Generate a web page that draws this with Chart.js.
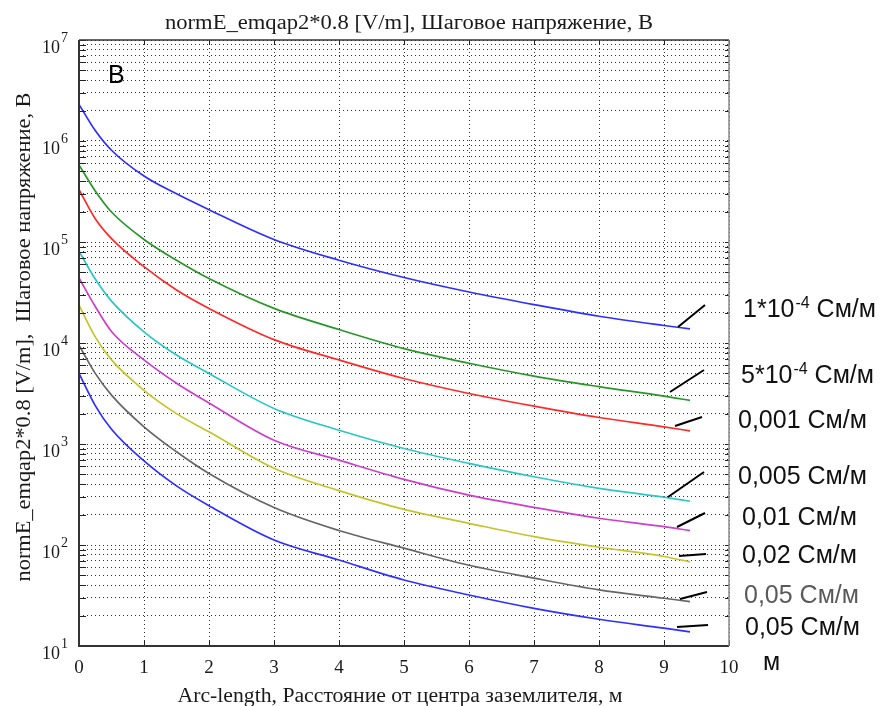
<!DOCTYPE html>
<html><head><meta charset="utf-8">
<script src="https://cdn.jsdelivr.net/npm/chart.js@4.4.1/dist/chart.umd.min.js"></script>
<style>html,body{margin:0;padding:0;background:#fff;}canvas{display:block;}</style>
</head><body>
<canvas id="c" width="882" height="706"></canvas>
<script>
// ---- data ----
const distance = [0, 0.25, 0.5, 1, 1.5, 2, 3, 4, 5, 6, 7, 8, 9, 9.4];
const sigma1e4 = [2.3e6, 1.27e6, 8.1e5, 4.5e5, 3.0e5, 2.09e5, 1.06e5, 6.6e4, 4.45e4, 3.2e4, 2.4e4, 1.84e4, 1.49e4, 1.38e4];
const sigma5e4 = [5.8e5, 3.2e5, 1.98e5, 1.06e5, 6.6e4, 4.35e4, 2.2e4, 1.36e4, 8.8e3, 6.3e3, 4.7e3, 3.7e3, 2.98e3, 2.7e3];
const sigma001 = [3.3e5, 1.7e5, 1.08e5, 5.7e4, 3.35e4, 2.2e4, 1.08e4, 6.8e3, 4.45e3, 3.16e3, 2.37e3, 1.83e3, 1.48e3, 1.35e3];
const sigma005 = [8.1e4, 4.3e4, 2.6e4, 1.29e4, 7.6e3, 5.0e3, 2.25e3, 1.37e3, 903, 643, 474, 364, 297, 271];
const sigma01 = [4.4e4, 2.3e4, 1.3e4, 6.8e3, 4.0e3, 2.55e3, 1.09e3, 693, 447, 312, 236, 184, 152, 139];
const sigma02 = [2.37e4, 1.15e4, 6.8e3, 3.4e3, 2.0e3, 1.32e3, 574, 345, 225, 164, 121, 95, 77, 68];
const sigma05a = [9.5e3, 5.0e3, 3.05e3, 1.48e3, 837, 510, 235, 139, 93, 63, 47, 36, 29.7, 27.5];
const sigma05b = [5e3, 2.4e3, 1.4e3, 680, 385, 245, 112, 71, 45, 32, 23.6, 18.4, 15, 13.8];
const seriesNames = ['1*10^-4 См/м', '5*10^-4 См/м', '0,001 См/м', '0,005 См/м', '0,01 См/м', '0,02 См/м', '0,05 См/м', '0,05 См/м'];
const xTickValues = [0, 1, 2, 3, 4, 5, 6, 7, 8, 9, 10];
const yDecadeExps = [1, 2, 3, 4, 5, 6, 7];
const titleText = 'normE_emqap2*0.8 [V/m], Шаговое напряжение, В';
const xTitleText = 'Arc-length, Расстояние от центра заземлителя, м';
const yTitleText = 'normE_emqap2*0.8 [V/m],  Шаговое напряжение, В';
const panelLetter = 'В';
const xUnit = 'м';

// ---- styles ----
const seriesValues = [sigma1e4, sigma5e4, sigma001, sigma005, sigma01, sigma02, sigma05a, sigma05b];
const colors = ['#2f2fff', '#2a962a', '#ff2a2a', '#2cc6c6', '#cc3fcc', '#c4c42c', '#666666', '#2f2fff'];

const yGrid = [];
for (let e = 1; e <= 6; e++) for (let m = 1; m <= 9; m++) yGrid.push(m * Math.pow(10, e));
yGrid.push(1e7);

const labelPos = [[743,317],[741,383],[738,428],[738,484],[742,525],[742,563],[744,603],[745,635]];
const labelColors = ['#111','#111','#111','#111','#111','#111','#5a5a5a','#111'];
const leaders = [[678,327,705,305],[670,392,704,370],[675,426,702,417],[668,497,704,472],
                 [677,527,705,513],[679,556,706,554],[680,599,707,592],[677,627,708,625]];

function fitText(ctx, text, cx, y, w) {
  const m = ctx.measureText(text).width;
  ctx.save(); ctx.translate(cx, y); ctx.scale(w / m, 1);
  ctx.textAlign = 'center'; ctx.fillText(text, 0, 0); ctx.restore();
}

const decor = {
  id: 'decor',
  afterDatasetsDraw(chart) {
    const ctx = chart.ctx, a = chart.chartArea;
    const xs = chart.scales.x, ys = chart.scales.y;
    ctx.save();
    ctx.strokeStyle = '#222'; ctx.lineWidth = 1;
    yGrid.forEach(v => {
      const p = Math.round(ys.getPixelForValue(v)) + 0.5;
      ctx.beginPath(); ctx.moveTo(a.left, p); ctx.lineTo(a.left + 7, p); ctx.stroke();
      ctx.beginPath(); ctx.moveTo(a.right, p); ctx.lineTo(a.right - 4, p); ctx.stroke();
    });
    xTickValues.forEach(v => {
      const p = Math.round(xs.getPixelForValue(v)) + 0.5;
      ctx.beginPath(); ctx.moveTo(p, a.bottom); ctx.lineTo(p, a.bottom - 5); ctx.stroke();
      ctx.beginPath(); ctx.moveTo(p, a.top); ctx.lineTo(p, a.top + 5); ctx.stroke();
    });
    ctx.lineWidth = 2; ctx.strokeStyle = '#333';
    ctx.beginPath(); ctx.moveTo(a.left, a.top); ctx.lineTo(a.left, a.bottom); ctx.lineTo(a.right, a.bottom); ctx.stroke();
    ctx.lineWidth = 1.5; ctx.strokeStyle = '#333';
    ctx.beginPath(); ctx.moveTo(a.left, a.top); ctx.lineTo(a.right, a.top); ctx.stroke();
    ctx.strokeStyle = '#888';
    ctx.beginPath(); ctx.moveTo(a.right, a.top); ctx.lineTo(a.right, a.bottom); ctx.stroke();
    ctx.strokeStyle = '#000'; ctx.lineWidth = 2;
    leaders.forEach(l => { ctx.beginPath(); ctx.moveTo(l[0], l[1]); ctx.lineTo(l[2], l[3]); ctx.stroke(); });
    ctx.restore();
  },
  afterDraw(chart) {
    const ctx = chart.ctx;
    const xs = chart.scales.x, ys = chart.scales.y;
    ctx.save();
    ctx.fillStyle = '#1a1a1a';
    ctx.textBaseline = 'alphabetic';
    ctx.font = '20px "Liberation Serif", "DejaVu Serif", serif';
    fitText(ctx, titleText, 409, 29, 488);
    fitText(ctx, xTitleText, 400, 702, 445);
    ctx.save(); ctx.translate(30, 337); ctx.rotate(-Math.PI / 2);
    fitText(ctx, yTitleText, 0, 0, 489);
    ctx.restore();
    yDecadeExps.forEach(e => {
      const p = ys.getPixelForValue(Math.pow(10, e));
      ctx.font = '18px "Liberation Serif", serif'; ctx.textAlign = 'right';
      ctx.fillText('10', 60, p + 13);
      ctx.font = '14px "Liberation Serif", serif'; ctx.textAlign = 'left';
      ctx.fillText(String(e), 61, p + 2);
    });
    ctx.font = '19px "Liberation Serif", serif'; ctx.textAlign = 'center';
    xTickValues.forEach(v => ctx.fillText(String(v), xs.getPixelForValue(v), 673));
    ctx.fillStyle = '#000';
    ctx.font = '25px "Liberation Sans", Arial, sans-serif'; ctx.textAlign = 'left';
    ctx.fillText(panelLetter, 108, 83);
    seriesNames.forEach((name, i) => {
      const [lx, ly] = labelPos[i];
      ctx.fillStyle = labelColors[i];
      let x = lx;
      const caret = name.indexOf('^');
      let main = name, exp = '', rest = '';
      if (caret >= 0) {
        main = name.slice(0, caret);
        const sp = name.indexOf(' ', caret);
        exp = name.slice(caret + 1, sp);
        rest = name.slice(sp);
      }
      ctx.font = '25px "Liberation Sans", Arial, sans-serif';
      ctx.fillText(main, x, ly); x += ctx.measureText(main).width;
      if (exp) {
        ctx.font = '16px "Liberation Sans", Arial, sans-serif';
        ctx.fillText(exp, x + 1, ly - 9); x += ctx.measureText(exp).width + 1;
        ctx.font = '25px "Liberation Sans", Arial, sans-serif';
        ctx.fillText(rest, x, ly);
      }
    });
    ctx.fillStyle = '#111';
    ctx.font = '25px "Liberation Sans", Arial, sans-serif';
    ctx.fillText(xUnit, 763, 670);
    ctx.restore();
  }
};

const datasets = seriesValues.map((vals, i) => ({
  label: seriesNames[i],
  data: distance.map((d, j) => ({ x: d, y: vals[j] })),
  borderColor: colors[i],
  borderWidth: 1.7,
  pointRadius: 0,
  fill: false,
  cubicInterpolationMode: 'monotone'
}));

const gridStyle = { color: '#333', lineWidth: 1, drawTicks: false };

new Chart(document.getElementById('c'), {
  type: 'line',
  data: { datasets },
  options: {
    responsive: false,
    animation: false,
    devicePixelRatio: 1,
    layout: { padding: { top: 40, right: 153, left: 0, bottom: 0 } },
    plugins: { legend: { display: false }, title: { display: false }, tooltip: { enabled: false } },
    scales: {
      x: {
        type: 'linear', min: 0, max: 10,
        ticks: { display: false, stepSize: 1 },
        grid: gridStyle,
        border: { display: false, dash: [1, 3] },
        afterFit: s => { s.height = 60; }
      },
      y: {
        type: 'logarithmic', min: 10, max: 1e7,
        ticks: { display: false, autoSkip: false },
        grid: gridStyle,
        border: { display: false, dash: [1, 3] },
        afterBuildTicks: s => { s.ticks = yGrid.map(v => ({ value: v })); },
        afterFit: s => { s.width = 79; }
      }
    }
  },
  plugins: [decor]
});
</script>
</body></html>
